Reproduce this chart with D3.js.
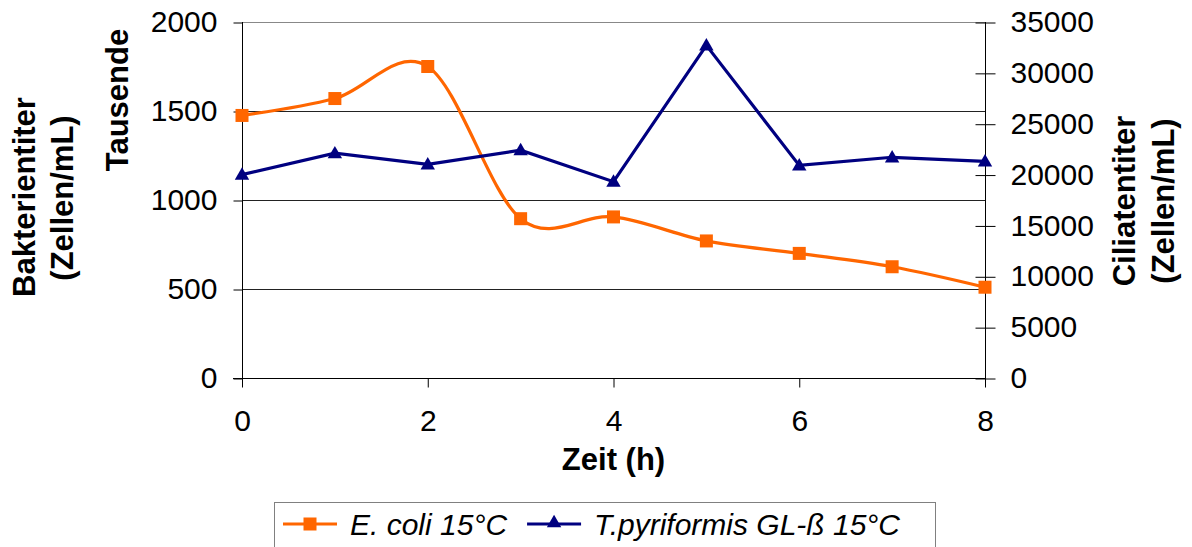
<!DOCTYPE html>
<html>
<head>
<meta charset="utf-8">
<script src="https://cdn.jsdelivr.net/npm/d3@7"></script>
<style>
  html, body { margin: 0; padding: 0; background: #fff; }
  svg { display: block; font-family: "Liberation Sans", Arial, sans-serif; }
</style>
</head>
<body>
<svg id="chart" width="1192" height="547"></svg>
<script>
// Time points (h)
const hours = [0, 1, 2, 3, 4, 5, 6, 7, 8];
// Bacterial titre, thousands of cells per mL (left axis)
const ecoli = [1475, 1570, 1750, 895, 905, 770, 700, 625, 510];
// Ciliate titre, cells per mL (right axis)
const tpyri = [20000, 22100, 21000, 22400, 19300, 32700, 20900, 21700, 21300];

const xTicks = [0, 2, 4, 6, 8];
const leftTicks = [0, 500, 1000, 1500, 2000];
const rightTicks = [0, 5000, 10000, 15000, 20000, 25000, 30000, 35000];

const seriesNames = ["E. coli 15°C", "T.pyriformis GL-ß 15°C"];
const orange = "#FF6600", navy = "#000080";

const svg = d3.select("#chart");
const plot = { left: 242, right: 985, top: 22, bottom: 378 };

const x = d3.scaleLinear().domain([0, 8]).range([plot.left, plot.right]);
const yL = d3.scaleLinear().domain([0, 2000]).range([plot.bottom, plot.top]);
const yR = d3.scaleLinear().domain([0, 35000]).range([plot.bottom, plot.top]);

const tickFont = 30;
const plain = d3.format("d");

// Horizontal gridlines
svg.append("g").selectAll("line")
  .data(leftTicks.filter(d => d > 0))
  .join("line")
  .attr("x1", plot.left).attr("x2", plot.right)
  .attr("y1", d => Math.round(yL(d)) + 0.5).attr("y2", d => Math.round(yL(d)) + 0.5)
  .attr("stroke", d => d === 2000 ? "#888" : "#222")
  .attr("stroke-width", 1);

// Left axis
const gL = svg.append("g")
  .attr("transform", `translate(${plot.left + 0.5},0)`)
  .call(d3.axisLeft(yL).tickValues(leftTicks).tickFormat(plain).tickSize(9).tickPadding(16))
  .call(g => g.select(".domain").remove());
gL.append("line").attr("y1", plot.top).attr("y2", plot.bottom).attr("stroke", "#000");
gL.selectAll(".tick line").attr("stroke", "#000").attr("transform", "translate(0,0.5)");
gL.selectAll("text").attr("font-size", tickFont).attr("fill", "#000")
  .attr("font-family", "'Liberation Sans', Arial, sans-serif");

// Right axis (ticks cross the axis line)
const gR = svg.append("g")
  .attr("transform", `translate(${plot.right + 0.5},0)`)
  .call(d3.axisRight(yR).tickValues(rightTicks).tickFormat(plain).tickSize(10).tickPadding(15))
  .call(g => g.select(".domain").remove());
gR.append("line").attr("y1", plot.top).attr("y2", plot.bottom + 8).attr("stroke", "#000");
gR.selectAll(".tick line").attr("x1", -10).attr("stroke", "#000").attr("transform", "translate(0,0.5)");
gR.selectAll("text").attr("font-size", tickFont).attr("fill", "#000")
  .attr("font-family", "'Liberation Sans', Arial, sans-serif");

// Bottom axis
const gX = svg.append("g")
  .attr("transform", `translate(0,${plot.bottom + 0.5})`)
  .call(d3.axisBottom(x).tickValues(xTicks).tickFormat(plain).tickSize(9).tickPadding(22))
  .call(g => g.select(".domain").remove());
gX.append("line").attr("x1", plot.left - 9).attr("x2", plot.right).attr("stroke", "#000");
gX.selectAll(".tick line").attr("stroke", "#000");
gX.selectAll("text").attr("font-size", tickFont).attr("fill", "#000")
  .attr("font-family", "'Liberation Sans', Arial, sans-serif");

// Axis titles
const titleStyle = sel => sel.attr("font-size", 31).attr("font-weight", "bold").attr("fill", "#000").attr("text-anchor", "middle");
svg.append("text").call(titleStyle).attr("x", (plot.left + plot.right) / 2).attr("y", 470).text("Zeit (h)");
svg.append("text").call(titleStyle).attr("transform", "translate(35,197) rotate(-90)").text("Bakterientiter");
svg.append("text").call(titleStyle).attr("transform", "translate(73,198) rotate(-90)").text("(Zellen/mL)");
svg.append("text").call(titleStyle).attr("transform", "translate(128,100) rotate(-90)").text("Tausende");
svg.append("text").call(titleStyle).attr("transform", "translate(1135,201) rotate(-90)").text("Ciliatentiter");
svg.append("text").call(titleStyle).attr("transform", "translate(1174,201) rotate(-90)").text("(Zellen/mL)");

// Series: E. coli (smoothed line, square markers)
const ecoliLine = d3.line()
  .x((d, i) => x(hours[i])).y(d => yL(d))
  .curve(d3.curveCardinal.tension(0));
svg.append("path").datum(ecoli)
  .attr("d", ecoliLine).attr("fill", "none")
  .attr("stroke", orange).attr("stroke-width", 3.2).attr("stroke-linejoin", "round");
const sq = 13;
svg.append("g").selectAll("rect").data(ecoli).join("rect")
  .attr("x", (d, i) => x(hours[i]) - sq / 2).attr("y", d => yL(d) - sq / 2)
  .attr("width", sq).attr("height", sq).attr("fill", orange);

// Series: T. pyriformis (straight line, triangle markers)
const tpLine = d3.line().x((d, i) => x(hours[i])).y(d => yR(d));
svg.append("path").datum(tpyri)
  .attr("d", tpLine).attr("fill", "none")
  .attr("stroke", navy).attr("stroke-width", 3.2).attr("stroke-linejoin", "miter");
const tri = d3.symbol().type(d3.symbolTriangle).size(90);
svg.append("g").selectAll("path").data(tpyri).join("path")
  .attr("transform", (d, i) => `translate(${x(hours[i])},${yR(d) + 1})`)
  .attr("d", tri).attr("fill", navy);

// Legend
const legend = svg.append("g");
const box = { x: 274, y: 502, w: 661, h: 60 };
legend.append("rect")
  .attr("x", box.x + 0.5).attr("y", box.y + 0.5).attr("width", box.w).attr("height", box.h)
  .attr("fill", "#fff").attr("stroke", "#808080").attr("stroke-width", 1);
const ly = 524;
let cx = box.x + 9;
[[orange, "sq"], [navy, "tri"]].forEach(([col, mk], k) => {
  legend.append("line").attr("x1", cx).attr("x2", cx + 54).attr("y1", ly).attr("y2", ly)
    .attr("stroke", col).attr("stroke-width", 3.2);
  if (mk === "sq") {
    legend.append("rect").attr("x", cx + 27 - sq / 2).attr("y", ly - sq / 2)
      .attr("width", sq).attr("height", sq).attr("fill", col);
  } else {
    legend.append("path").attr("transform", `translate(${cx + 27},${ly - 1})`)
      .attr("d", tri).attr("fill", col);
  }
  const t = legend.append("text").attr("x", cx + 67).attr("y", ly + 11)
    .attr("font-size", 30).attr("font-style", "italic").attr("fill", "#000")
    .text(seriesNames[k]);
  cx = cx + 67 + t.node().getComputedTextLength() + 20;
});
</script>
</body>
</html>
